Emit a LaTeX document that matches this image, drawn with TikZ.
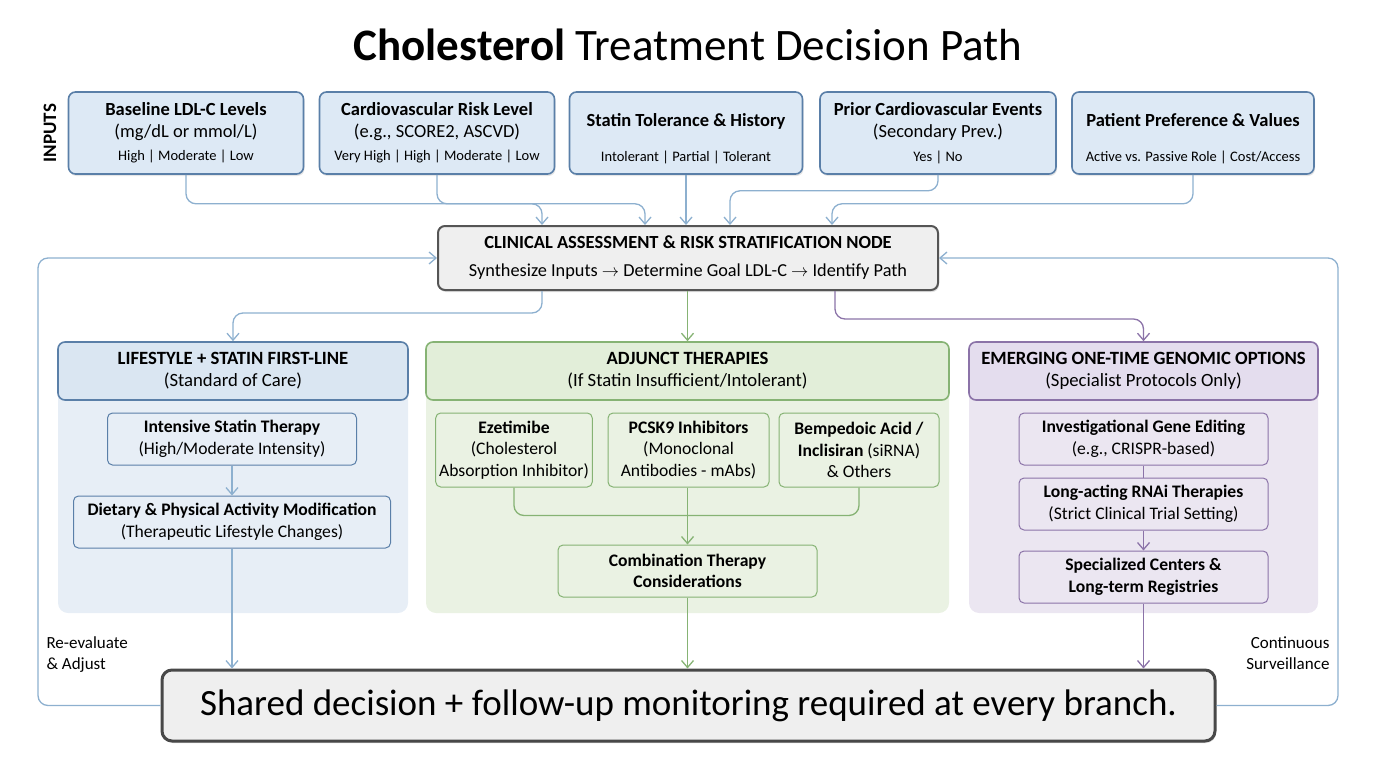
\documentclass[tikz,border=0pt]{standalone}
\usepackage{fontspec}
\setmainfont{Carlito}
\usetikzlibrary{arrows.meta,positioning,shadows}

\definecolor{inputfill}{HTML}{DDE9F5}
\definecolor{inputdraw}{HTML}{5A7FA8}
\definecolor{linkblue}{HTML}{8DB0CF}
\definecolor{bluebg}{HTML}{E7EEF6}
\definecolor{bluehead}{HTML}{DAE6F2}
\definecolor{greendraw}{HTML}{86B374}
\definecolor{greenbg}{HTML}{EAF2E3}
\definecolor{greenhead}{HTML}{E2EED9}
\definecolor{purpledraw}{HTML}{8B73A8}
\definecolor{purplebg}{HTML}{EBE6F1}
\definecolor{purplehead}{HTML}{E4DDEE}
\definecolor{grayfill}{HTML}{EFEFEF}
\definecolor{graydraw}{HTML}{555555}

\newcommand{\fs}[1]{\fontsize{#1}{#1}\selectfont}

\tikzset{
  inputbox/.style={draw=inputdraw,fill=inputfill,line width=1.6pt,rounded corners=7pt,
    minimum height=82,align=center,font=\fs{18.5},
    drop shadow={opacity=0.2,shadow xshift=1pt,shadow yshift=-2pt}},
  panelbg/.style={rounded corners=10pt,minimum width=350,minimum height=271},
  panelhead/.style={rounded corners=7pt,line width=1.6pt,minimum width=350,minimum height=58,
    align=center,font=\fs{18.7}},
  subbox/.style={rounded corners=5pt,line width=1pt,align=center,font=\fs{17.6}},
  link/.style={line width=1.3pt,rounded corners=10pt},
  tip/.style={-{Straight Barb[length=7pt,width=12pt]}},
}

\begin{document}
\begin{tikzpicture}[x=1pt,y=-1pt]
  \useasboundingbox (0,0) rectangle (1376,768);

  % title
  \node (title) at (688,45) {\fs{45}\textbf{Cholesterol} Treatment Decision Path};
  \node[rotate=90,font=\fs{19}\bfseries] (inputs) at (50,133) {INPUTS};

  % input boxes
  \node[inputbox,minimum width=235] (ldl) at (186,133)
    {\textbf{Baseline LDL-C Levels}\\[3.5pt](mg/dL or mmol/L)\\[5pt]{\fs{14.5}High | Moderate | Low}};
  \node[inputbox,minimum width=235] (risk) at (437,133)
    {\textbf{Cardiovascular Risk Level}\\[3.5pt](e.g., SCORE2, ASCVD)\\[5pt]{\fs{14.5}Very High | High | Moderate | Low}};
  \node[inputbox,minimum width=233] (tol) at (686,133)
    {\rule{0pt}{24pt}\textbf{Statin Tolerance \& History}\\[17pt]{\fs{14.5}Intolerant | Partial | Tolerant}};
  \node[inputbox,minimum width=236] (prior) at (938,133)
    {\textbf{Prior Cardiovascular Events}\\[3.5pt](Secondary Prev.)\\[5pt]{\fs{14.5}Yes | No}};
  \node[inputbox,minimum width=242] (pref) at (1193,133)
    {\rule{0pt}{24pt}\textbf{Patient Preference \& Values}\\[17pt]{\fs{14.5}Active vs. Passive Role | Cost/Access}};

  % assessment node
  \node[draw=graydraw,fill=grayfill,line width=2pt,rounded corners=7pt,minimum width=500,
    minimum height=64,align=center,font=\fs{18.5},
    drop shadow={opacity=0.25,shadow xshift=1pt,shadow yshift=-2pt}] (clin) at (688,258)
    {\textbf{CLINICAL ASSESSMENT \& RISK STRATIFICATION NODE}\\[9.5pt]
     {\fs{18.3}Synthesize Inputs $\rightarrow$ Determine Goal LDL-C $\rightarrow$ Identify Path}};

  \draw[link,tip,draw=linkblue] (ldl.south) -- ++(0,29) -| ([xshift=-146pt]clin.north);
  \draw[link,tip,draw=linkblue] (risk.south) -- ++(0,29) -| ([xshift=-43pt]clin.north);
  \draw[link,tip,draw=linkblue] (tol.south) -- (tol.south |- clin.north);
  \draw[link,tip,draw=linkblue] (prior.south) -- ++(0,16) -| ([xshift=42pt]clin.north);
  \draw[link,tip,draw=linkblue] (pref.south) -- ++(0,29) -| ([xshift=144pt]clin.north);

  % panels
  \node[panelbg,fill=bluebg] (lpanel) at (233,477.5) {};
  \node[panelbg,fill=greenbg,minimum width=523] (mpanel) at (687.5,477.5) {};
  \node[panelbg,fill=purplebg,minimum width=349] (rpanel) at (1143.5,477.5) {};

  \node[panelhead,draw=inputdraw,fill=bluehead] (lhead) at (233,371)
    {\textbf{LIFESTYLE + STATIN FIRST-LINE}\\[3pt](Standard of Care)};
  \node[panelhead,draw=greendraw,fill=greenhead,minimum width=523] (mhead) at (687.5,371)
    {\textbf{ADJUNCT THERAPIES}\\[3pt](If Statin Insufficient/Intolerant)};
  \node[panelhead,draw=purpledraw,fill=purplehead,minimum width=349] (rhead) at (1143.5,371)
    {\textbf{EMERGING ONE-TIME GENOMIC OPTIONS}\\[3pt](Specialist Protocols Only)};

  \draw[link,tip,draw=linkblue] ([xshift=-146pt]clin.south) -- ++(0,22) -| (lhead.north);
  \draw[link,tip,draw=greendraw] (clin.south -| mhead.north) -- (mhead.north);
  \draw[link,tip,draw=purpledraw] ([xshift=147pt]clin.south) -- ++(0,28) -| (rhead.north);

  % lifestyle branch
  \node[subbox,draw=inputdraw,fill=bluebg,minimum width=249,minimum height=52] (ist) at (232,439)
    {\textbf{Intensive Statin Therapy}\\[4pt](High/Moderate Intensity)};
  \node[subbox,draw=inputdraw,fill=bluebg,minimum width=317,minimum height=52] (dpa) at (232,522)
    {\textbf{Dietary \& Physical Activity Modification}\\[4pt](Therapeutic Lifestyle Changes)};
  \draw[link,tip,draw=linkblue] (ist) -- (dpa);

  % adjunct branch
  \node[subbox,draw=greendraw,fill=greenbg,minimum width=154,minimum height=74] (eze) at (514,450)
    {\textbf{Ezetimibe}\\[4pt](Cholesterol\\[4pt]Absorption Inhibitor)};
  \node[subbox,draw=greendraw,fill=greenbg,minimum width=161,minimum height=74] (pcsk) at (688.5,450)
    {\textbf{PCSK9 Inhibitors}\\[4pt](Monoclonal\\[4pt]Antibodies - mAbs)};
  \node[subbox,draw=greendraw,fill=greenbg,minimum width=160,minimum height=74] (bemp) at (859,450)
    {\textbf{Bempedoic Acid /}\\[4pt]\textbf{Inclisiran} (siRNA)\\[4pt]\& Others};
  \node[subbox,draw=greendraw,fill=greenbg,minimum width=259,minimum height=52] (comb) at (687.5,571)
    {\textbf{Combination Therapy}\\[4pt]\textbf{Considerations}};
  \draw[link,draw=greendraw] (eze.south) -- ++(0,28) -| (bemp.south);
  \draw[link,tip,draw=greendraw] (pcsk.south -| comb.north) -- (comb.north);

  % genomic branch
  \node[subbox,draw=purpledraw,fill=purplebg,minimum width=249,minimum height=52] (ige) at (1143.5,439)
    {\textbf{Investigational Gene Editing}\\[4pt](e.g., CRISPR-based)};
  \node[subbox,draw=purpledraw,fill=purplebg,minimum width=249,minimum height=52] (rnai) at (1143.5,504)
    {\textbf{Long-acting RNAi Therapies}\\[4pt](Strict Clinical Trial Setting)};
  \node[subbox,draw=purpledraw,fill=purplebg,minimum width=249,minimum height=52] (spc) at (1143.5,577)
    {\textbf{Specialized Centers \&}\\[4pt]\textbf{Long-term Registries}};
  \draw[link,draw=purpledraw] (ige) -- (rnai);
  \draw[link,tip,draw=purpledraw] (rnai) -- (spc);

  % shared decision
  \node[draw=graydraw!85!black,fill=grayfill,line width=3pt,rounded corners=10pt,minimum width=1053,
    minimum height=71,font=\fs{37},
    drop shadow={opacity=0.3,shadow xshift=1pt,shadow yshift=-2pt}] (shared) at (688.5,705.5)
    {Shared decision + follow-up monitoring required at every branch.};

  \draw[link,tip,draw=linkblue] (dpa.south) -- (dpa.south |- shared.north);
  \draw[link,tip,draw=greendraw] (comb.south) -- (comb.south |- shared.north);
  \draw[link,tip,draw=purpledraw] (spc.south) -- (spc.south |- shared.north);

  % feedback loops
  \draw[link,tip,draw=linkblue] (shared.west) -| (38,258) -- (clin.west);
  \draw[link,tip,draw=linkblue] (shared.east) -| (1338,258) -- (clin.east);
  \node[anchor=north west,align=left,font=\fs{17}] (reeval) at (43,633) {Re-evaluate\\[4pt]\& Adjust};
  \node[anchor=north east,align=right,font=\fs{17}] (surv) at (1333,633) {Continuous\\[4pt]Surveillance};
\end{tikzpicture}
\end{document}
